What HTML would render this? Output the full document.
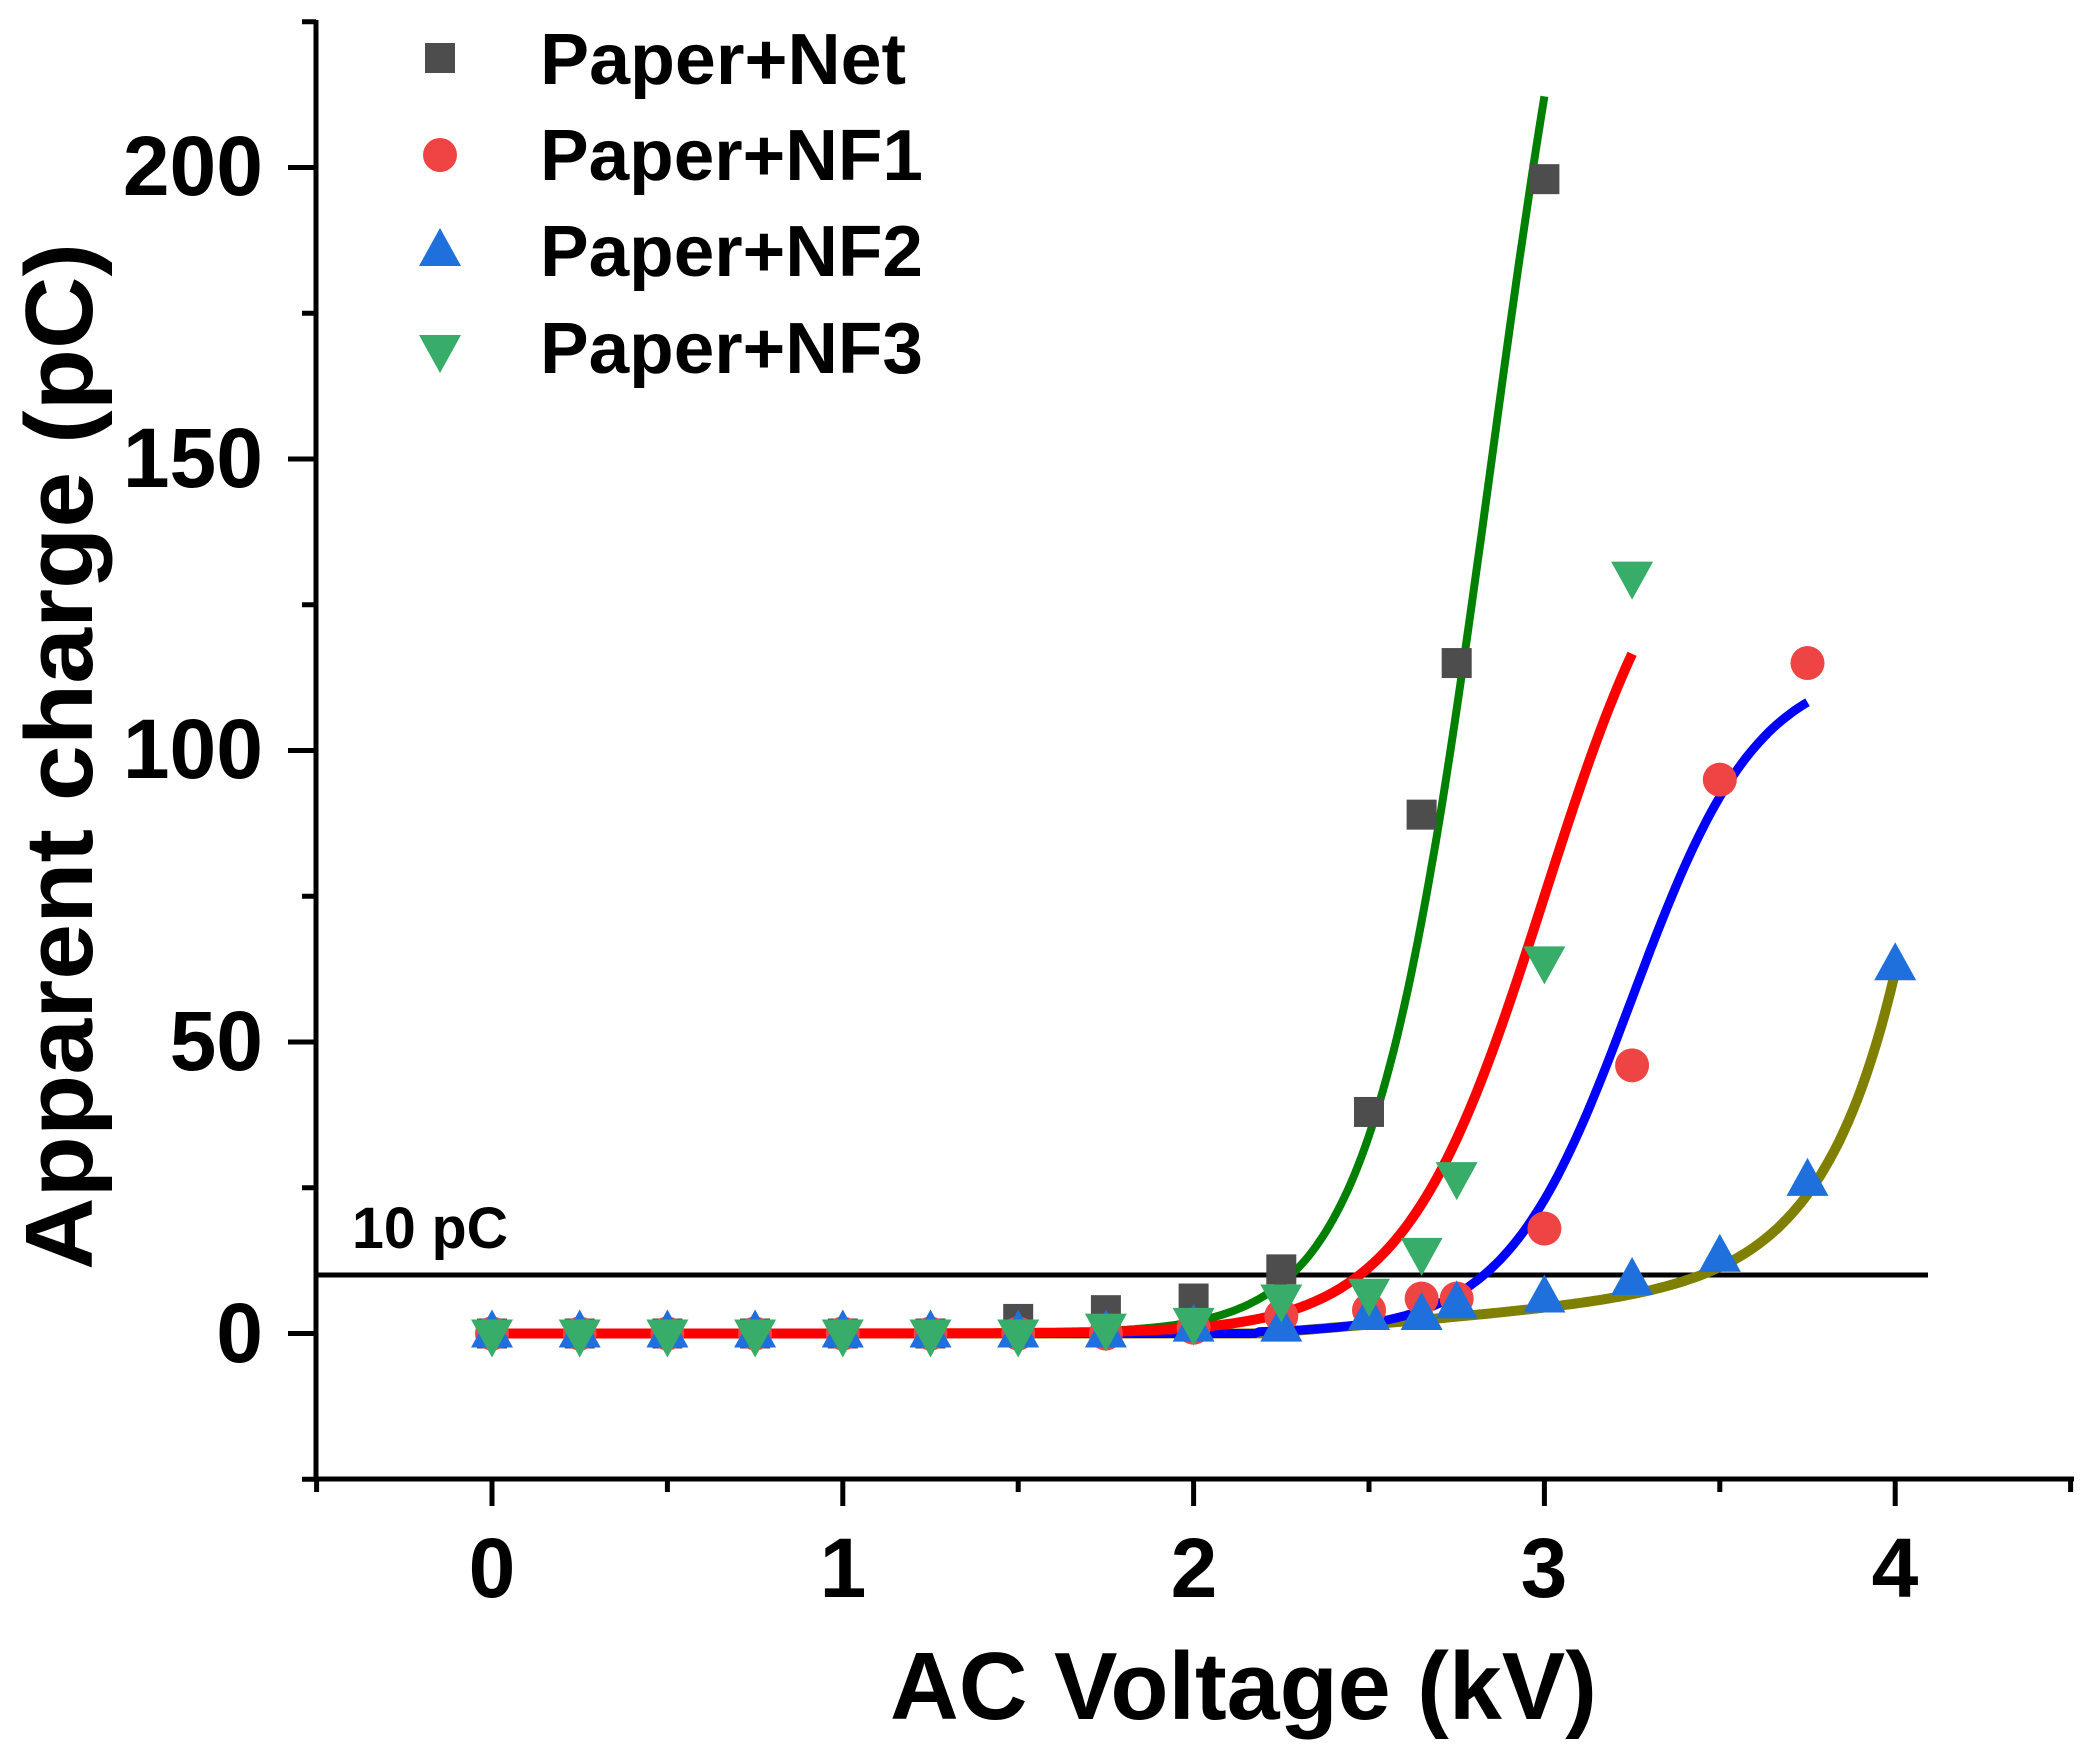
<!DOCTYPE html>
<html><head><meta charset="utf-8"><style>
html,body{margin:0;padding:0;background:#fff}
svg{display:block}
text{font-family:"Liberation Sans",Arial,sans-serif;font-weight:bold;fill:#000}
</style></head><body>
<svg id="s" width="2100" height="1744" viewBox="0 0 2100 1744" xmlns="http://www.w3.org/2000/svg">
<g id="axes" stroke="#000" stroke-width="5" fill="none"></g>
<line x1="316" y1="1275" x2="1928" y2="1275" stroke="#000" stroke-width="5"/>
<g id="curves" fill="none" stroke-linecap="butt"></g>
<g id="pts"></g>
<g id="labels">
<text x="263" y="1362" font-size="84" text-anchor="end">0</text>
<text x="263" y="1070" font-size="84" text-anchor="end">50</text>
<text x="263" y="778" font-size="84" text-anchor="end">100</text>
<text x="263" y="487" font-size="84" text-anchor="end">150</text>
<text x="263" y="195" font-size="84" text-anchor="end">200</text>
<text x="492" y="1597" font-size="84" text-anchor="middle">0</text>
<text x="843" y="1597" font-size="84" text-anchor="middle">1</text>
<text x="1194" y="1597" font-size="84" text-anchor="middle">2</text>
<text x="1544" y="1597" font-size="84" text-anchor="middle">3</text>
<text x="1895" y="1597" font-size="84" text-anchor="middle">4</text>
<text x="352" y="1248" font-size="58" textLength="156" lengthAdjust="spacingAndGlyphs">10 pC</text>
<text x="890" y="1719" font-size="96" textLength="707" lengthAdjust="spacingAndGlyphs">AC Voltage (kV)</text>
<text transform="translate(92,1270) rotate(-90)" font-size="96" textLength="1027" lengthAdjust="spacingAndGlyphs">Apparent charge (pC)</text>
<text x="540" y="84" font-size="72" textLength="366" lengthAdjust="spacingAndGlyphs">Paper+Net</text>
<text x="540" y="180" font-size="72" textLength="383" lengthAdjust="spacingAndGlyphs">Paper+NF1</text>
<text x="540" y="276" font-size="72" textLength="383" lengthAdjust="spacingAndGlyphs">Paper+NF2</text>
<text x="540" y="373" font-size="72" textLength="383" lengthAdjust="spacingAndGlyphs">Paper+NF3</text>
</g>
</svg>
<script>
(function(){
var NS="http://www.w3.org/2000/svg";
function X(v){return 492+350.8*v}
function Y(v){return 1333.5-5.83*v}
function el(p,tag,a){var e=document.createElementNS(NS,tag);for(var k in a)e.setAttribute(k,a[k]);p.appendChild(e);return e}
var ax=document.getElementById('axes');
el(ax,'line',{x1:316,y1:20,x2:316,y2:1481});
el(ax,'line',{x1:314,y1:1479,x2:2074,y2:1479});
for(var v=-25;v<=225;v+=25){var maj=(v%50===0);el(ax,'line',{x1:maj?288:302,y1:Y(v),x2:316,y2:Y(v)});}
for(var x=-0.5;x<=4.51;x+=0.5){var mj=Math.abs(x-Math.round(x))<1e-6;el(ax,'line',{x1:X(x),y1:1479,x2:X(x),y2:mj?1506:1492});}
var cv=document.getElementById('curves');
function curve(f,a,b,col,w){var d='';for(var i=0;i<=300;i++){var x=a+(b-a)*i/300;d+=(i?'L':'M')+X(x).toFixed(1)+','+Y(f(x)).toFixed(1)}el(cv,'path',{d:d,stroke:col,'stroke-width':w});}
function lg(A,x0,w){return function(x){return A/(1+Math.exp(-(x-x0)/w))}}
function olive(x){var l=x>2.2?5*(x-2.2):0;return l+53*Math.exp((x-4)/0.21)}
var pg=document.getElementById('pts');
var net=[[0,0],[.25,0],[.5,0],[.75,0],[1,0],[1.25,0],[1.5,2.5],[1.75,4],[2,6],[2.25,11],[2.5,38],[2.65,89],[2.75,115],[3,198]];
var nf1=[[0,0],[.25,0],[.5,0],[.75,0],[1,0],[1.25,0],[1.5,0],[1.75,0],[2,1],[2.25,3],[2.5,4],[2.65,6],[2.75,6],[3,18],[3.25,46],[3.5,95],[3.75,115]];
var nf2=[[0,0],[.25,0],[.5,0],[.75,0],[1,0],[1.25,0],[1.5,0],[1.75,0],[2,1],[2.25,1],[2.5,3],[2.65,3],[2.75,5],[3,6],[3.25,9],[3.5,13],[3.75,26],[4,63]];
var nf3=[[0,0],[.25,0],[.5,0],[.75,0],[1,0],[1.25,0],[1.5,0],[1.75,1],[2,2],[2.25,6],[2.5,7],[2.65,14],[2.75,27],[3,64],[3.25,130]];
function sq(x,y,c){el(pg,'rect',{x:x-15,y:y-15,width:30,height:30,fill:c})}
function ci(x,y,c){el(pg,'circle',{cx:x,cy:y,r:17,fill:c})}
function up(x,y,c){el(pg,'polygon',{points:(x-21)+','+(y+14)+' '+(x+21)+','+(y+14)+' '+x+','+(y-24),fill:c})}
function dn(x,y,c){el(pg,'polygon',{points:(x-21)+','+(y-14)+' '+(x+21)+','+(y-14)+' '+x+','+(y+24),fill:c})}
net.forEach(function(p){sq(X(p[0]),Y(p[1]),'#4d4d4d')});
nf1.forEach(function(p){ci(X(p[0]),Y(p[1]),'#ef4444')});
nf2.forEach(function(p){up(X(p[0]),Y(p[1]),'#1f6fdc')});
nf3.forEach(function(p){dn(X(p[0]),Y(p[1]),'#38ad6a')});
curve(olive,0,4.0,'#808000',10);
curve(function(x){var v=lg(115,3.25,0.18)(x);return v<0.3?0:v},0,3.75,'#0000ff',9);
curve(lg(300,2.85,0.17),0,3.0,'#008000',8);
curve(lg(150,3.0,0.2),0,3.25,'#ff0000',10);
sq(440,58,'#4d4d4d');ci(440,155,'#ef4444');up(440,252,'#1f6fdc');dn(440,349,'#38ad6a');
})();
</script>
</body></html>
